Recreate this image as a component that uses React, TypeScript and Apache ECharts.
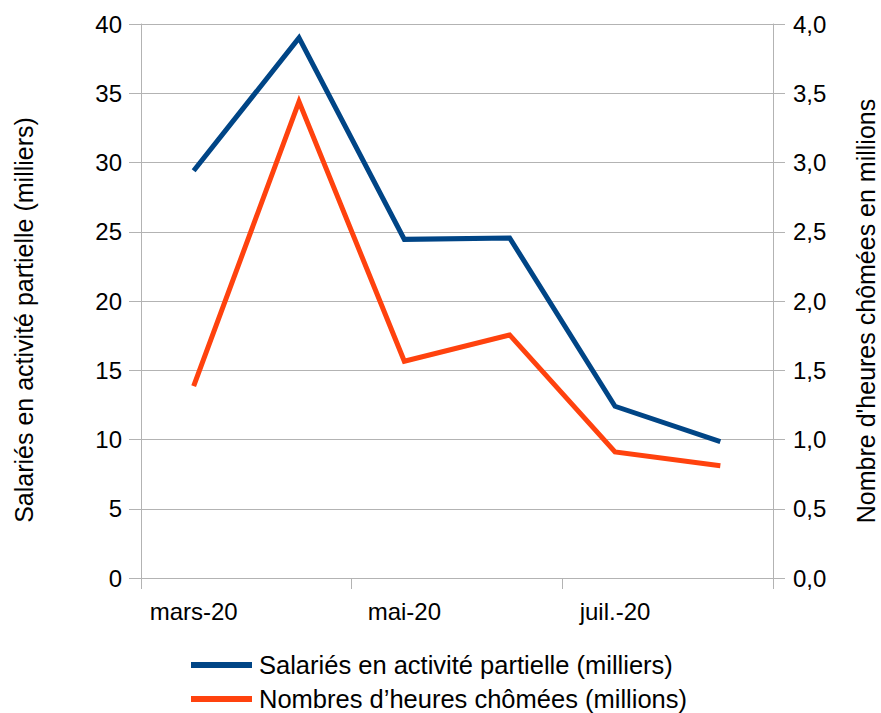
import React, { useEffect, useRef } from "react";
import * as echarts from "echarts";

// Monthly data, March to August 2020
const months = ["mars-20", "avr.-20", "mai-20", "juin-20", "juil.-20", "août-20"];
const salaries = [29.4, 39.0, 24.45, 24.55, 12.4, 9.85]; // milliers
const heures = [1.385, 3.44, 1.565, 1.755, 0.91, 0.81]; // millions

const leftTicks = [0, 40, 5];
const rightTicks = [0, 4, 0.5];

const BLUE = "#004586";
const ORANGE = "#ff420e";
const GRID = "#b3b3b3";
const FONT = "Liberation Sans";

export default function App() {
  const ref = useRef<HTMLDivElement>(null);

  useEffect(() => {
    if (!ref.current) return;
    const chart = echarts.init(ref.current, undefined, { renderer: "svg" });
    chart.setOption({
      animation: false,
      backgroundColor: "#ffffff",
      textStyle: { fontFamily: FONT, color: "#000" },
      grid: { left: 141, right: 108, top: 24, bottom: 135, containLabel: false },
      legend: {
        orient: "vertical",
        left: 191,
        top: 652,
        width: 600,
        height: 120,
        padding: 0,
        icon: "rect",
        itemWidth: 61,
        itemHeight: 6,
        itemGap: 8,
        textStyle: { fontFamily: FONT, fontSize: 25.5, color: "#000", lineHeight: 24, padding: [0, 0, 0, 2] },
        data: ["Salariés en activité partielle (milliers)", "Nombres d’heures chômées (millions)"],
      },
      xAxis: {
        type: "category",
        data: months,
        boundaryGap: true,
        axisLine: { show: true, lineStyle: { color: GRID, width: 1 } },
        axisTick: { show: true, interval: 1, length: 11, lineStyle: { color: GRID } },
        axisLabel: { interval: 1, margin: 21, fontFamily: FONT, fontSize: 24, color: "#000" },
        splitLine: { show: false },
      },
      yAxis: [
        {
          type: "value",
          min: leftTicks[0],
          max: leftTicks[1],
          interval: leftTicks[2],
          position: "left",
          axisLine: { show: true, lineStyle: { color: GRID, width: 1 } },
          axisTick: { show: true, length: 12, lineStyle: { color: GRID } },
          axisLabel: { margin: 19, fontFamily: FONT, fontSize: 24, color: "#000" },
          splitLine: { show: true, lineStyle: { color: GRID, width: 1 } },
        },
        {
          type: "value",
          min: rightTicks[0],
          max: rightTicks[1],
          interval: rightTicks[2],
          position: "right",
          axisLine: { show: true, lineStyle: { color: GRID, width: 1 } },
          axisTick: { show: true, length: 12, lineStyle: { color: GRID } },
          axisLabel: {
            margin: 20,
            fontFamily: FONT,
            fontSize: 24,
            color: "#000",
            formatter: (v: number) => v.toFixed(1).replace(".", ","),
          },
          splitLine: { show: false },
        },
      ],
      graphic: [
        {
          type: "text",
          x: 24,
          y: 320,
          rotation: Math.PI / 2,
          style: {
            text: "Salariés en activité partielle (milliers)",
            fontFamily: FONT,
            fontSize: 25,
            fill: "#000",
            align: "center",
            verticalAlign: "middle",
          },
        },
        {
          type: "text",
          x: 866,
          y: 311,
          rotation: Math.PI / 2,
          style: {
            text: "Nombre d'heures chômées en millions",
            fontFamily: FONT,
            fontSize: 25,
            fill: "#000",
            align: "center",
            verticalAlign: "middle",
          },
        },
      ],
      series: [
        {
          name: "Salariés en activité partielle (milliers)",
          type: "line",
          yAxisIndex: 0,
          data: salaries,
          showSymbol: false,
          symbol: "none",
          lineStyle: { color: BLUE, width: 5, cap: "butt", join: "miter" },
          itemStyle: { color: BLUE },
        },
        {
          name: "Nombres d’heures chômées (millions)",
          type: "line",
          yAxisIndex: 1,
          data: heures,
          showSymbol: false,
          symbol: "none",
          lineStyle: { color: ORANGE, width: 5, cap: "butt", join: "miter" },
          itemStyle: { color: ORANGE },
        },
      ],
    });
    return () => chart.dispose();
  }, []);

  return <div ref={ref} style={{ width: 881, height: 713, position: "absolute", left: 0, top: 0 }} />;
}
